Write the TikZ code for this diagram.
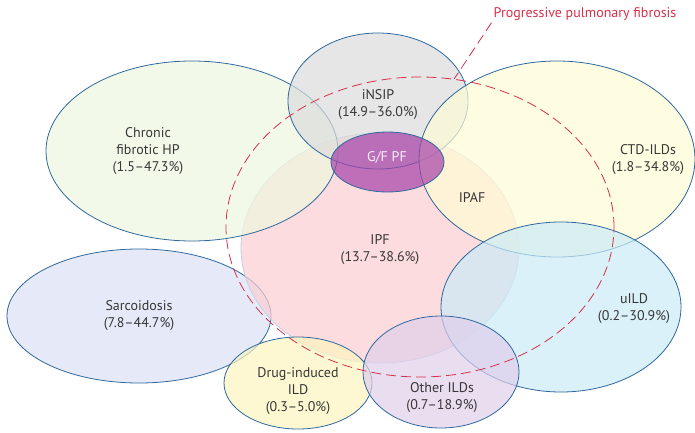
\documentclass[tikz,border=0pt]{standalone}
\usepackage{fontspec}
\setmainfont{PT Sans}
\usetikzlibrary{shapes.geometric}

\definecolor{edgeblue}{RGB}{46,104,158}
\definecolor{pfred}{RGB}{214,48,74}
\definecolor{txtgrey}{RGB}{55,55,55}
\definecolor{hpfill}{RGB}{238,247,224}
\definecolor{nsipfill}{RGB}{219,219,219}
\definecolor{ctdfill}{RGB}{255,252,212}
\definecolor{ipffill}{RGB}{252,205,209}
\definecolor{sarcfill}{RGB}{219,225,245}
\definecolor{drugfill}{RGB}{252,245,191}
\definecolor{otherfill}{RGB}{224,206,234}
\definecolor{uildfill}{RGB}{202,235,248}
\definecolor{gfpffill}{RGB}{166,66,168}

\begin{document}
\begin{tikzpicture}[x=1pt,y=-1pt,
ild/.style={ellipse, draw=edgeblue, line width=.8pt, fill opacity=.7, inner sep=0pt},
lbl/.style={align=center, text=txtgrey, font=\fontsize{14}{17}\selectfont},
ppfline/.style={draw=pfred, line width=.8pt, dash pattern=on 10pt off 5pt}]
\useasboundingbox (0,0) rectangle (695,433);

\node[ild, fill=sarcfill, minimum width=264, minimum height=134] (sarc) at (139,316) {};
\node[ild, fill=ipffill, draw=edgeblue!30, minimum width=278, minimum height=230] (ipf) at (380,248) {};
\node[ild, fill=hpfill, minimum width=292, minimum height=180] (hp) at (192,151) {};
\node[ild, fill=nsipfill, minimum width=180, minimum height=136] (nsip) at (378,101) {};
\node[ild, fill=ctdfill, minimum width=276, minimum height=196] (ctd) at (557,159) {};
\node[ild, fill=uildfill, minimum width=240, minimum height=170] (uild) at (561,307) {};
\node[ild, fill=drugfill, minimum width=148, minimum height=92] (drug) at (298,383) {};
\node[ild, fill=otherfill, minimum width=156, minimum height=112] (other) at (441,372) {};
\node[ild, fill=gfpffill, minimum width=113, minimum height=60] (gfpf) at (387.5,162) {};

\node[ellipse, ppfline, inner sep=0pt, minimum width=388, minimum height=300] (ppf) at (420,227) {};

\node[lbl] (hptxt) at (148,151) {Chronic\\fibrotic HP\\(1.5--47.3\%)};
\node[lbl] (nsiptxt) at (378,105) {iNSIP\\(14.9--36.0\%)};
\node[lbl, text=white!92!gfpffill] (gfpftxt) at (387,157) {G/F PF};
\node[lbl] (ctdtxt) at (648,160) {CTD-ILDs\\(1.8--34.8\%)};
\node[lbl] (ipaftxt) at (472,198) {IPAF};
\node[lbl] (ipftxt) at (380,250) {IPF\\(13.7--38.6\%)};
\node[lbl] (sarctxt) at (139,316) {Sarcoidosis\\(7.8--44.7\%)};
\node[lbl] (drugtxt) at (298,391) {Drug-induced\\ILD\\(0.3--5.0\%)};
\node[lbl] (othertxt) at (442,398) {Other ILDs\\(0.7--18.9\%)};
\node[lbl] (uildtxt) at (634,309) {uILD\\(0.2--30.9\%)};
\node[lbl, text=pfred, inner sep=2pt] (ppftxt) at (585,14) {Progressive pulmonary fibrosis};

\draw[ppfline] (ppftxt.south west) -- (ppf.77);

\end{tikzpicture}
\end{document}
